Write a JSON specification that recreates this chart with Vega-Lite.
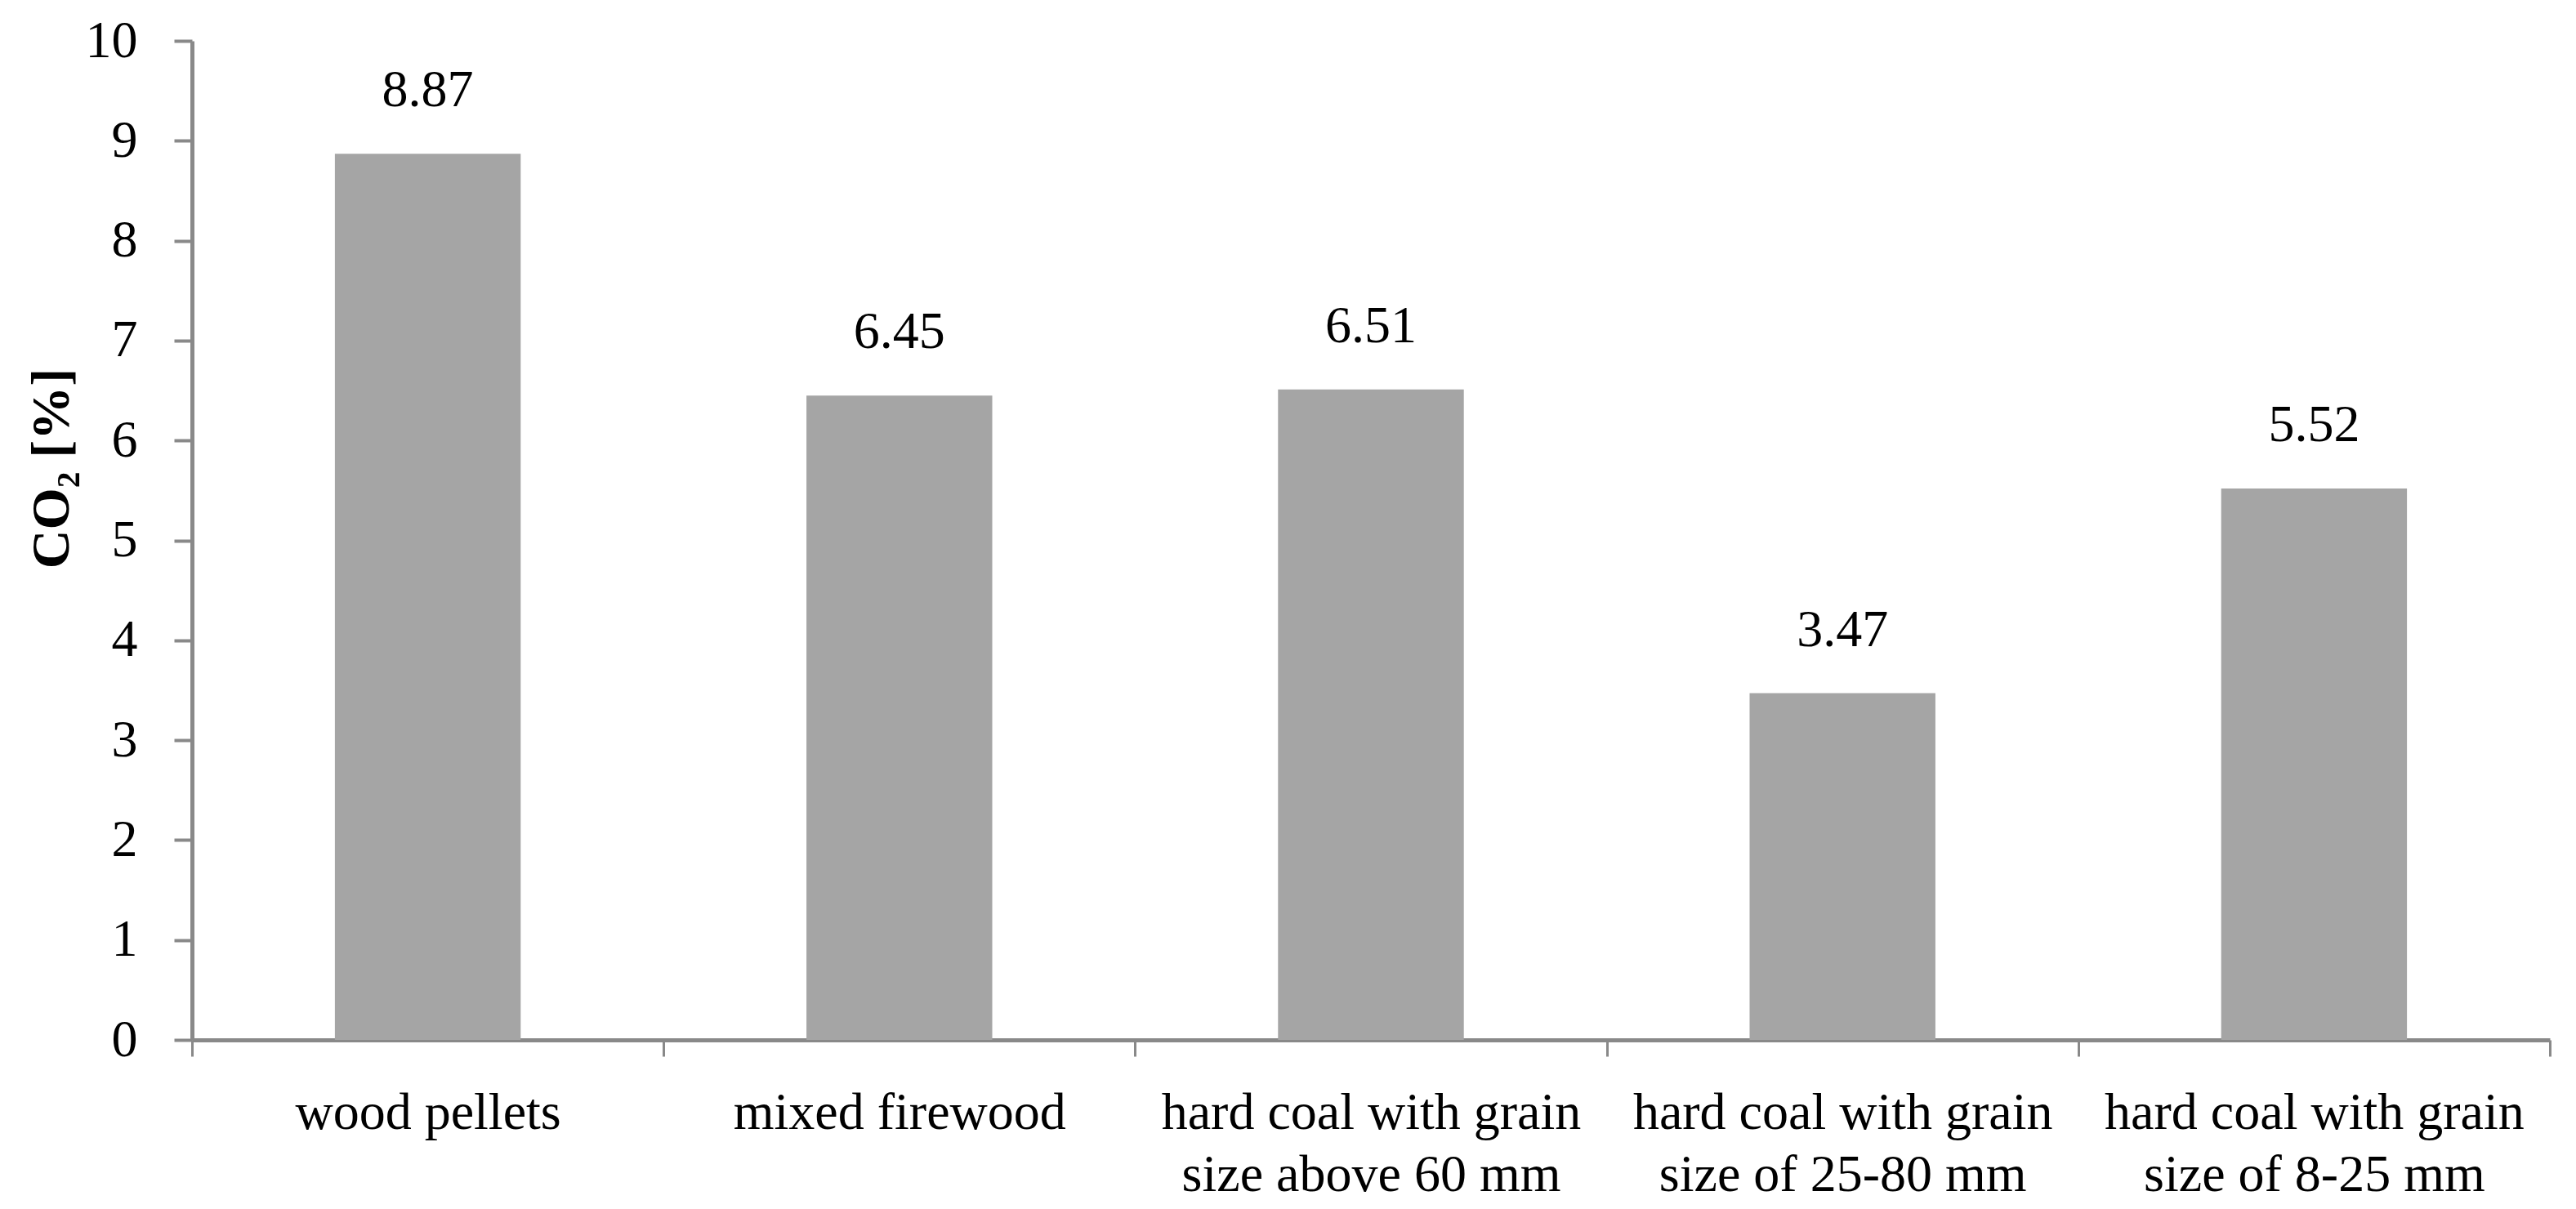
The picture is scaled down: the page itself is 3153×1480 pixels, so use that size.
{
  "$schema": "https://vega.github.io/schema/vega-lite/v6.json",
  "autosize": "none",
  "width": 2886,
  "height": 1223,
  "padding": {"left": 235, "top": 50, "right": 32, "bottom": 207},
  "background": "white",
  "config": {
    "view": {"stroke": null},
    "font": "Liberation Serif",
    "axis": {"grid": false}
  },
  "data": {
    "values": [
      {"fuel": "wood pellets", "co2": 8.87},
      {"fuel": "mixed firewood", "co2": 6.45},
      {"fuel": "hard coal with grain size above 60 mm", "co2": 6.51},
      {"fuel": "hard coal with grain size of 25-80 mm", "co2": 3.47},
      {"fuel": "hard coal with grain size of 8-25 mm", "co2": 5.52}
    ]
  },
  "encoding": {
    "x": {
      "field": "fuel",
      "type": "nominal",
      "sort": null,
      "scale": {"paddingInner": 0, "paddingOuter": 0},
      "axis": {
        "title": null,
        "labelAngle": 0,
        "labelFont": "Liberation Serif",
        "labelFontSize": 64,
        "labelColor": "#000000",
        "labelLineHeight": 76,
        "labelPadding": 37,
        "labelLimit": 0,
        "labelExpr": "split(replace(datum.label, 'grain ', 'grain|'), '|')",
        "domainColor": "#898989",
        "domainWidth": 5,
        "tickColor": "#898989",
        "tickWidth": 3,
        "tickSize": 20,
        "tickBand": "extent"
      }
    },
    "y": {
      "field": "co2",
      "type": "quantitative",
      "scale": {"domain": [0, 10], "nice": false},
      "axis": {
        "title": "CO₂ [%]",
        "titleFont": "Liberation Serif",
        "titleFontSize": 66,
        "titleFontWeight": "bold",
        "titleColor": "#000000",
        "titleX": -152,
        "titleY": 523,
        "titleAngle": -90,
        "titleBaseline": "alphabetic",
        "titleAlign": "center",
        "values": [0, 1, 2, 3, 4, 5, 6, 7, 8, 9, 10],
        "labelFont": "Liberation Serif",
        "labelFontSize": 64,
        "labelColor": "#000000",
        "labelPadding": 45,
        "domainColor": "#898989",
        "domainWidth": 5,
        "tickColor": "#898989",
        "tickWidth": 4,
        "tickSize": 22
      }
    }
  },
  "layer": [
    {"mark": {"type": "bar", "color": "#a5a5a5", "width": {"band": 0.394}}},
    {
      "mark": {"type": "text", "baseline": "alphabetic", "dy": -58, "fontSize": 64, "font": "Liberation Serif", "color": "#000000"},
      "encoding": {"text": {"field": "co2", "type": "quantitative", "format": ".2f"}}
    }
  ]
}
